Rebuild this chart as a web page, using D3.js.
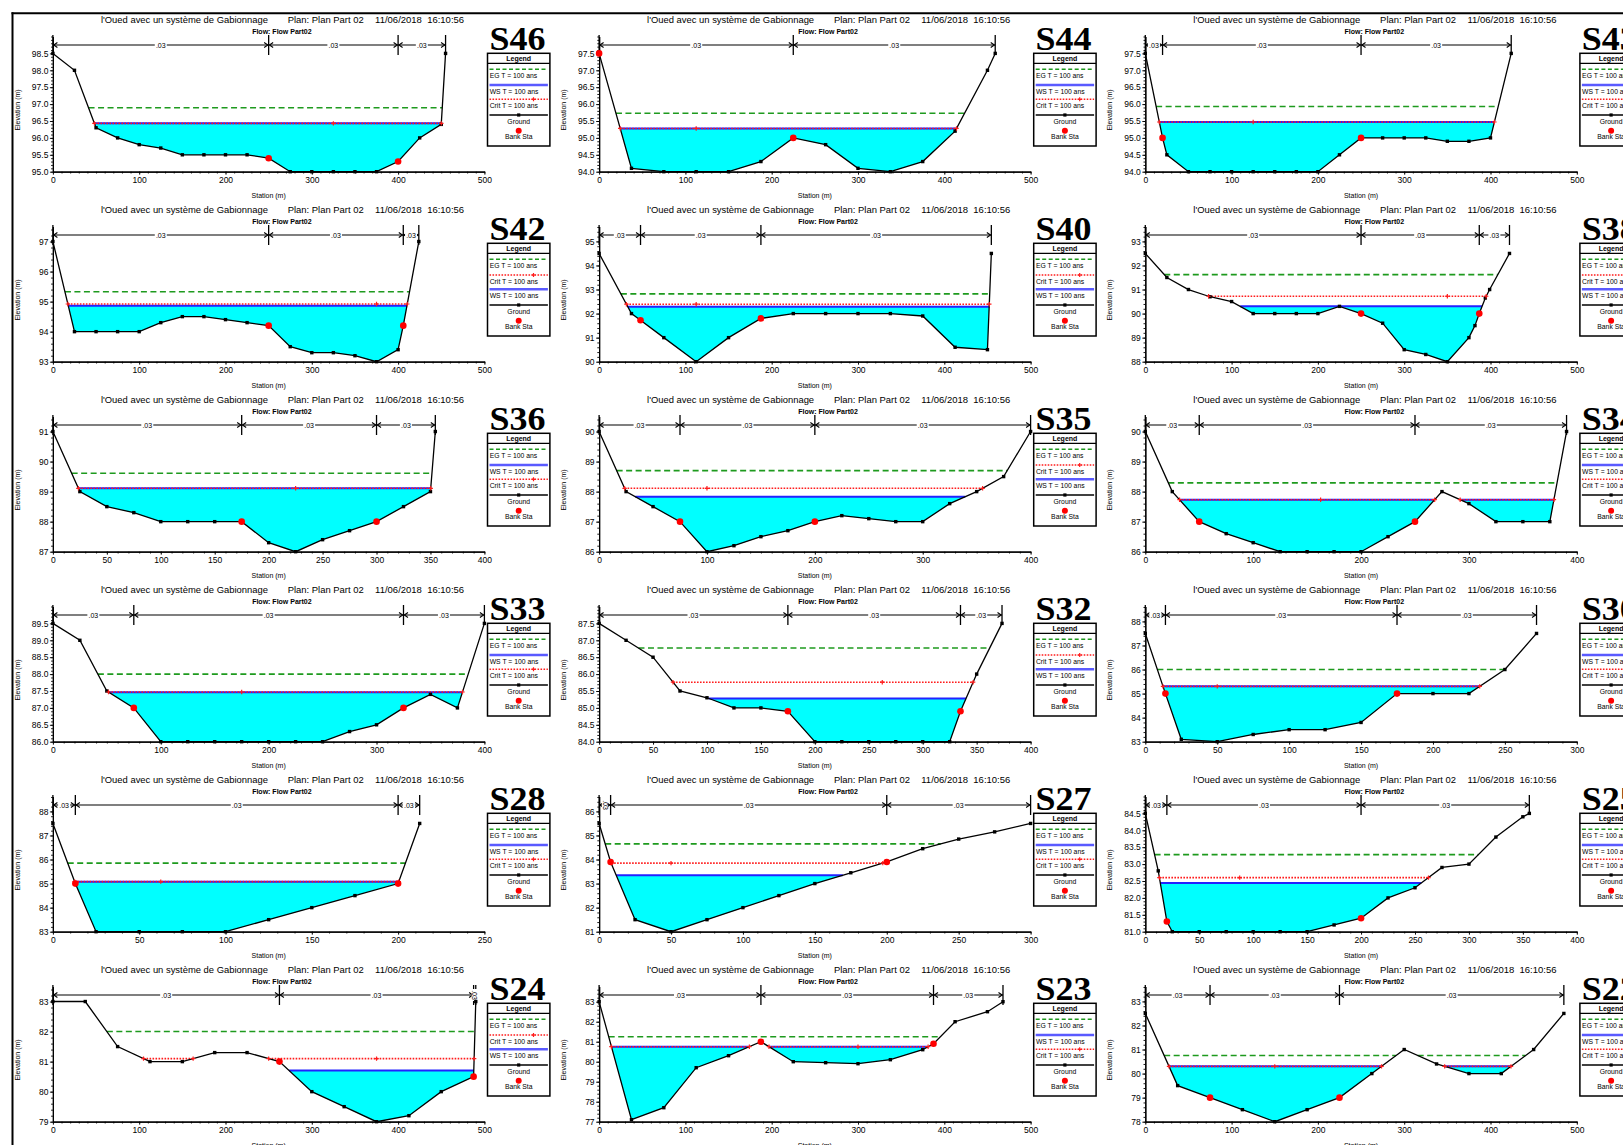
<!DOCTYPE html>
<html>
<head>
<meta charset="utf-8">
<title>Sections en travers – l'Oued avec un système de Gabionnage</title>
<script src="https://cdn.jsdelivr.net/npm/d3@7/dist/d3.min.js"></script>
<style>
  html, body { margin: 0; padding: 0; background: #fff; overflow: hidden; }
  svg { display: block; }
</style>
</head>
<body>
<svg id="sheet" width="1623" height="1145"></svg>
<script>
// ---------------- Cross-section data: [station (m), elevation (m)] ----------------
const sectionNames = ["S46","S44","S43","S42","S40","S38","S36","S35","S34",
                      "S33","S32","S30","S28","S27","S25","S24","S23","S22"];

const groundS46 = [[0,98.5],[25,98.0],[50,96.3],[75,96.0],[100,95.8],[125,95.7],[150,95.5],[175,95.5],[200,95.5],[225,95.5],[250,95.4],[275,95.0],[300,95.0],[325,95.0],[350,95.0],[375,95.0],[400,95.3],[425,96.0],[450,96.4],[455,98.5]];
const groundS44 = [[0,97.5],[37.5,94.1],[75,94.0],[112.5,94.0],[150,94.0],[187.5,94.3],[225,95.0],[262.5,94.8],[300,94.1],[337.5,94.0],[375,94.3],[412.5,95.2],[450,97.0],[459,97.5]];
const groundS43 = [[0,97.5],[20,95.0],[25,94.5],[50,94.0],[75,94.0],[100,94.0],[125,94.0],[150,94.0],[175,94.0],[200,94.0],[225,94.5],[250,95.0],[275,95.0],[300,95.0],[325,95.0],[350,94.9],[375,94.9],[400,95.0],[424,97.5]];
const groundS42 = [[0,97.0],[25,94.0],[50,94.0],[75,94.0],[100,94.0],[125,94.3],[150,94.5],[175,94.5],[200,94.4],[225,94.3],[250,94.2],[275,93.5],[300,93.3],[325,93.3],[350,93.2],[375,93.0],[400,93.4],[406,94.2],[424,97.0]];
const groundS40 = [[0,94.5],[37.5,92.0],[48,91.72],[75,91.0],[112.5,90.0],[150,91.0],[187.5,91.8],[225,92.0],[262.5,92.0],[300,92.0],[337.5,92.0],[375,91.9],[412.5,90.6],[450,90.5],[454.5,94.5]];
const groundS38 = [[0,92.5],[25,91.5],[50,91.0],[75,90.7],[100,90.5],[125,90.0],[150,90.0],[175,90.0],[200,90.0],[225,90.3],[250,90.0],[275,89.6],[300,88.5],[325,88.3],[350,88.0],[375,89.0],[382,89.5],[387,90.0],[394,90.65],[399,91.0],[422,92.5]];
const groundS36 = [[0,91.0],[25,89.0],[50,88.5],[75,88.3],[100,88.0],[125,88.0],[150,88.0],[175,88.0],[200,87.3],[225,87.0],[250,87.4],[275,87.7],[300,88.0],[325,88.5],[350,89.0],[354.5,91.0]];
const groundS35 = [[0,90.0],[25,88.0],[50,87.5],[75,87.0],[100,86.0],[125,86.2],[150,86.5],[175,86.7],[200,87.0],[225,87.2],[250,87.1],[275,87.0],[300,87.0],[325,87.6],[350,88.0],[375,88.5],[400,90.0]];
const groundS34 = [[0,90.0],[25,88.0],[50,87.0],[75,86.6],[100,86.3],[125,86.0],[150,86.0],[175,86.0],[200,86.0],[225,86.5],[250,87.0],[275,88.0],[300,87.6],[325,87.0],[350,87.0],[375,87.0],[390.5,90.0]];
const groundS33 = [[0,89.5],[25,89.0],[50,87.5],[75,87.0],[100,86.0],[125,86.0],[150,86.0],[175,86.0],[200,86.0],[225,86.0],[250,86.0],[275,86.3],[300,86.5],[325,87.0],[350,87.4],[375,87.0],[400,89.5]];
const groundS32 = [[0,87.5],[25,87.0],[50,86.5],[75,85.5],[100,85.3],[125,85.0],[150,85.0],[175,84.9],[200,84.0],[225,84.0],[250,84.0],[275,84.0],[300,84.0],[325,84.0],[335,84.9],[350,86.0],[373.5,87.5]];
const groundS30 = [[0,87.5],[14,85.0],[25,83.1],[50,83.0],[75,83.3],[100,83.5],[125,83.5],[150,83.8],[175,85.0],[200,85.0],[225,85.0],[250,86.0],[272,87.5]];
const groundS28 = [[0,87.5],[13,85.0],[25,83.0],[50,83.0],[75,83.0],[100,83.0],[125,83.5],[150,84.0],[175,84.5],[200,85.0],[212.5,87.5]];
const groundS27 = [[0,85.5],[8,83.9],[25,81.5],[50,81.0],[75,81.5],[100,82.0],[125,82.5],[150,83.0],[175,83.45],[200,83.9],[225,84.45],[250,84.85],[275,85.15],[300,85.5]];
const groundS25 = [[0,84.5],[12,82.8],[20,81.3],[25,81.0],[50,81.0],[75,81.0],[100,81.0],[125,81.0],[150,81.0],[175,81.2],[200,81.4],[225,82.0],[250,82.3],[275,82.9],[300,83.0],[325,83.8],[350,84.4],[356,84.5]];
const groundS24 = [[0,83.0],[37.5,83.0],[75,81.5],[112.5,81.0],[150,81.0],[187.5,81.3],[225,81.3],[262.5,81.0],[300,80.0],[337.5,79.5],[375,79.0],[412.5,79.2],[450,80.0],[487.5,80.5],[490,83.0]];
const groundS23 = [[0,83.0],[37.5,77.1],[75,77.7],[112.5,79.7],[150,80.3],[187.5,81.0],[225,80.0],[262.5,79.95],[300,79.9],[337.5,80.1],[375,80.6],[387.5,80.9],[412.5,82.0],[450,82.5],[468,83.0]];
const groundS22 = [[0,82.5],[37.5,79.5],[75,79.0],[112.5,78.5],[150,78.0],[187.5,78.5],[225,79.0],[262.5,80.0],[300,81.0],[337.5,80.4],[375,80.0],[412.5,80.0],[450,81.0],[485,82.5]];

const groundProfiles = [groundS46, groundS44, groundS43, groundS42, groundS40, groundS38,
                        groundS36, groundS35, groundS34, groundS33, groundS32, groundS30,
                        groundS28, groundS27, groundS25, groundS24, groundS23, groundS22];

// left / right bank stations
const bankStations = [[250,400],[0,225],[20,250],[250,406],[48,187.5],[250,387],
                      [175,300],[75,200],[50,250],[75,325],[175,335],[14,175],
                      [13,200],[8,200],[20,200],[262.5,487.5],[187.5,387.5],[75,225]];

// water surface, critical depth and energy grade elevations (T = 100 ans)
const wsElevations   = [96.43, 95.28, 95.47, 94.86, 92.28, 90.30, 89.11, 87.83, 87.73, 87.46, 85.28, 85.30, 85.08, 83.35, 82.44, 80.70, 80.75, 80.30];
const critElevations = [96.43, 95.28, 95.47, 94.92, 92.39, 90.72, 89.11, 88.11, 87.73, 87.47, 85.76, 85.30, 85.08, 83.85, 82.60, 81.10, 80.75, 80.30];
const egElevations   = [96.89, 95.73, 95.93, 95.33, 92.82, 91.62, 89.61, 88.70, 88.29, 88.00, 86.77, 86.00, 85.85, 84.65, 83.28, 82.00, 81.25, 80.75];

// Manning n-value change stations
const nValueBreaks = [[0,250,400,455],[0,225,459],[0,20,250,424],[0,250,406,424],[0,48,187.5,454.5],[0,250,387,422],
                      [0,175,300,354.5],[0,75,200,400],[0,50,250,390.5],[0,75,325,400],[0,175,335,373.5],[0,14,175,272],
                      [0,13,200,212.5],[0,8,200,300],[0,20,200,356],[0,262.5,487.5,490],[0,187.5,387.5,468],[0,75,225,485]];
const nValueLabel = ".03";

// axes
const stationMax      = [500,500,500, 500,500,500, 400,400,400, 400,400,300, 250,300,400, 500,500,500];
const stationTickStep = [100,100,100, 100,100,100, 50,100,100, 100,50,50, 50,50,50, 100,100,100];
const elevationMin    = [95,94,94, 93,90,88, 87,86,86, 86,84,83, 83,81,81, 79,77,78];
const elevationMax    = [99,98,98, 97.5,95.62,93.62, 91.5,90.5,90.5, 90,88,88.62, 88.62,86.62,85, 83.5,83.76,83.62];
const elevationTickStep = [0.5,0.5,0.5, 1,1,1, 1,1,1, 0.5,0.5,1, 1,1,0.5, 1,1,1];

// legend row order: "WC" = EG, WS, Crit ; "CW" = EG, Crit, WS
const legendOrders = ["WC","WC","WC","CW","CW","CW","WC","CW","WC","WC","CW","WC","WC","WC","WC","CW","WC","WC"];

const titleParts = ["l'Oued avec un système de Gabionnage", "Plan: Plan Part 02", "11/06/2018  16:10:56"];
const flowTitle = "Flow: Flow Part02";
const legendLabels = { eg: "EG T = 100 ans", ws: "WS T = 100 ans", crit: "Crit T = 100 ans", ground: "Ground", bank: "Bank Sta" };

// ---------------- Layout ----------------
const colX0 = [52.9, 599.1, 1145.3];
const rowTop = [20, 210, 400, 590, 780, 970];
const PLOT_W = 431.5, PLOT_TOP = 16.5, PLOT_BOTTOM = 151.7;
const N_LINE_Y = 25, N_BAR_TOP = 15, N_BAR_BOTTOM = 35;
const SANS = "'Liberation Sans', Arial, Helvetica, sans-serif";
const SERIF = "'Liberation Serif', 'Times New Roman', serif";
const COLORS = { eg: "#1e9a1e", ws: "#2222ff", crit: "#ff1c1c", fill: "#00ffff", ground: "#000000", bank: "#ff0000" };

const svg = d3.select("#sheet");

// sheet frame
svg.append("line").attr("x1", 11.5).attr("x2", 1623).attr("y1", 13.3).attr("y2", 13.3)
  .attr("stroke", "#000").attr("stroke-width", 2);
svg.append("line").attr("x1", 12.5).attr("x2", 12.5).attr("y1", 12.3).attr("y2", 1145)
  .attr("stroke", "#000").attr("stroke-width", 2);

// split the ground profile into wetted runs below a horizontal level
function wetRuns(pts, level) {
  const runs = [];
  let cur = null;
  for (let k = 0; k < pts.length; k++) {
    const [s, e] = pts[k];
    if (k > 0) {
      const [sp, ep] = pts[k - 1];
      if ((ep - level) * (e - level) < 0) {
        const sc = sp + (level - ep) / (e - ep) * (s - sp);
        if (cur) { cur.push([sc, level]); runs.push(cur); cur = null; }
        else { cur = [[sc, level]]; }
      }
    }
    if (e <= level) { if (!cur) cur = []; cur.push([s, e]); }
    else if (cur) { runs.push(cur); cur = null; }
  }
  if (cur) runs.push(cur);
  return runs.filter(r => r.length > 1 && r[r.length - 1][0] - r[0][0] > 1e-6);
}

// station of the lowest main-channel point (centre of the flat bottom)
function thalwegStation(pts, banks) {
  const inMain = pts.filter(p => p[0] >= banks[0] - 1e-6 && p[0] <= banks[1] + 1e-6);
  const minE = d3.min(inMain, p => p[1]);
  const firstIdx = inMain.findIndex(p => Math.abs(p[1] - minE) < 1e-6);
  let lastIdx = firstIdx;
  while (lastIdx + 1 < inMain.length && Math.abs(inMain[lastIdx + 1][1] - minE) < 1e-6) lastIdx++;
  return (inMain[firstIdx][0] + inMain[lastIdx][0]) / 2;
}

function plusMark(sel, cx, cy, size, color) {
  sel.append("path")
    .attr("d", `M${cx - size},${cy}H${cx + size}M${cx},${cy - size}V${cy + size}`)
    .attr("stroke", color).attr("stroke-width", 1.2).attr("fill", "none");
}

function drawSection(i) {
  const col = i % 3, row = Math.floor(i / 3);
  const g = svg.append("g").attr("transform", `translate(${colX0[col]},${rowTop[row]})`);
  const ground = groundProfiles[i];
  const x = d3.scaleLinear().domain([0, stationMax[i]]).range([0, PLOT_W]);
  const y = d3.scaleLinear().domain([elevationMin[i], elevationMax[i]]).range([PLOT_BOTTOM, PLOT_TOP]);

  // ---- titles ----
  const titleX = [48, 234.8, 322.2], titleW = [167, 76, 89];
  titleParts.forEach((t, k) => {
    g.append("text").attr("x", titleX[k]).attr("y", 3.4)
      .attr("font-family", SANS).attr("font-size", 9.4)
      .attr("textLength", titleW[k]).attr("lengthAdjust", "spacingAndGlyphs")
      .style("white-space", "pre").text(t);
  });
  g.append("text").attr("x", 229).attr("y", 14.2).attr("text-anchor", "middle")
    .attr("font-family", SANS).attr("font-size", 7).attr("font-weight", "bold").text(flowTitle);

  // ---- section name ----
  g.append("text").attr("x", 436.5).attr("y", 30)
    .attr("font-family", SERIF).attr("font-weight", "bold").attr("font-size", 34)
    .attr("textLength", 56).attr("lengthAdjust", "spacingAndGlyphs").text(sectionNames[i]);

  // ---- n-value bar ----
  const nb = nValueBreaks[i];
  const nG = g.append("g").attr("stroke", "#000").attr("fill", "none");
  nG.append("line").attr("x1", x(nb[0])).attr("x2", x(nb[nb.length - 1]))
    .attr("y1", N_LINE_Y).attr("y2", N_LINE_Y).attr("stroke-width", 1.2);
  nb.forEach(s => {
    nG.append("line").attr("x1", x(s)).attr("x2", x(s))
      .attr("y1", N_BAR_TOP).attr("y2", N_BAR_BOTTOM).attr("stroke-width", 1.3);
  });
  for (let k = 0; k < nb.length - 1; k++) {
    const a = x(nb[k]), b = x(nb[k + 1]), w = b - a, mid = (a + b) / 2;
    if (w > 9) {
      nG.append("path").attr("d", `M${a + 4.5},${N_LINE_Y - 2.5}L${a + 0.8},${N_LINE_Y}L${a + 4.5},${N_LINE_Y + 2.5}`)
        .attr("stroke-width", 1.1);
      nG.append("path").attr("d", `M${b - 4.5},${N_LINE_Y - 2.5}L${b - 0.8},${N_LINE_Y}L${b - 4.5},${N_LINE_Y + 2.5}`)
        .attr("stroke-width", 1.1);
    }
    if (w >= 14) {
      g.append("rect").attr("x", mid - 6).attr("y", N_LINE_Y - 4).attr("width", 12).attr("height", 8)
        .attr("fill", "#fff");
      g.append("text").attr("x", mid).attr("y", N_LINE_Y + 2.5).attr("text-anchor", "middle")
        .attr("font-family", SANS).attr("font-size", 7).text(nValueLabel);
    } else {
      g.append("rect").attr("x", mid - 3).attr("y", N_LINE_Y - 6).attr("width", 6).attr("height", 12)
        .attr("fill", "#fff");
      g.append("text").attr("transform", `translate(${mid - 2.3},${N_LINE_Y}) rotate(90)`)
        .attr("text-anchor", "middle").attr("font-family", SANS).attr("font-size", 7).text(nValueLabel);
    }
  }

  // ---- water (cyan) ----
  const ws = wsElevations[i];
  const wsRuns = wetRuns(ground, ws);
  const area = d3.area().x(d => x(d[0])).y0(y(ws)).y1(d => y(d[1]));
  wsRuns.forEach(r => g.append("path").attr("d", area(r)).attr("fill", COLORS.fill));

  // ---- energy grade ----
  wetRuns(ground, egElevations[i]).forEach(r => {
    g.append("line").attr("x1", x(r[0][0])).attr("x2", x(r[r.length - 1][0]))
      .attr("y1", y(egElevations[i])).attr("y2", y(egElevations[i]))
      .attr("stroke", COLORS.eg).attr("stroke-width", 1.6).attr("stroke-dasharray", "6,3.5");
  });

  // ---- water surface ----
  wsRuns.forEach(r => {
    g.append("line").attr("x1", x(r[0][0])).attr("x2", x(r[r.length - 1][0]))
      .attr("y1", y(ws)).attr("y2", y(ws))
      .attr("stroke", COLORS.ws).attr("stroke-width", 2);
  });

  // ---- critical depth ----
  const crit = critElevations[i];
  const critRuns = wetRuns(ground, crit);
  critRuns.forEach(r => {
    g.append("line").attr("x1", x(r[0][0])).attr("x2", x(r[r.length - 1][0]))
      .attr("y1", y(crit)).attr("y2", y(crit))
      .attr("stroke", COLORS.crit).attr("stroke-width", 1.6).attr("stroke-dasharray", "1.6,1.4");
  });

  // ---- axes ----
  const yTicks = [], yMinor = [];
  const ys = elevationTickStep[i];
  for (let v = elevationMin[i]; v < elevationMax[i] - 0.01; v = +(v + ys).toFixed(3)) yTicks.push(v);
  for (let v = elevationMin[i]; v <= elevationMax[i] + 1e-6; v = +(v + ys / 5).toFixed(3)) yMinor.push(v);
  const xTicks = d3.range(0, stationMax[i] + 1e-6, stationTickStep[i]);
  const xMinor = d3.range(0, stationMax[i] + 1e-6, 10);
  const fmt = ys < 1 ? d3.format(".1f") : d3.format("d");

  const yMinorAxis = g.append("g").call(d3.axisLeft(y).tickValues(yMinor).tickSize(1.8).tickFormat("").tickSizeOuter(0));
  const yAxis = g.append("g").call(d3.axisLeft(y).tickValues(yTicks).tickFormat(fmt).tickSize(3).tickPadding(1.5).tickSizeOuter(0));
  const xMinorAxis = g.append("g").attr("transform", `translate(0,${PLOT_BOTTOM})`)
    .call(d3.axisBottom(x).tickValues(xMinor).tickSize(1.8).tickFormat("").tickSizeOuter(0));
  const xAxis = g.append("g").attr("transform", `translate(0,${PLOT_BOTTOM})`)
    .call(d3.axisBottom(x).tickValues(xTicks).tickFormat(d3.format("d")).tickSize(3).tickPadding(2.4).tickSizeOuter(0));
  [yMinorAxis, yAxis, xMinorAxis, xAxis].forEach(a => {
    a.attr("font-family", SANS).attr("font-size", 8.5);
    a.selectAll("path.domain").attr("stroke", "#000").attr("stroke-width", 1.2);
    a.selectAll(".tick line").attr("stroke", "#000").attr("stroke-width", 0.9);
    a.selectAll(".tick text").attr("fill", "#000");
  });

  g.append("text").attr("x", PLOT_W / 2).attr("y", 177.5).attr("text-anchor", "middle")
    .attr("font-family", SANS).attr("font-size", 7).text("Station (m)");
  g.append("text").attr("transform", `translate(-33,90) rotate(-90)`).attr("text-anchor", "middle")
    .attr("font-family", SANS).attr("font-size", 7).text("Elevation (m)");

  // ---- ground ----
  const line = d3.line().x(d => x(d[0])).y(d => y(d[1]));
  g.append("path").attr("d", line(ground)).attr("fill", "none")
    .attr("stroke", COLORS.ground).attr("stroke-width", 1.3);
  g.selectAll("rect.gp").data(ground).join("rect").attr("class", "gp")
    .attr("x", d => x(d[0]) - 1.7).attr("y", d => y(d[1]) - 1.7)
    .attr("width", 3.4).attr("height", 3.4).attr("fill", COLORS.ground);

  // ---- critical depth markers (ends and thalweg) ----
  const tw = thalwegStation(ground, bankStations[i]);
  critRuns.forEach(r => {
    plusMark(g, x(r[0][0]), y(crit), 2.2, COLORS.crit);
    plusMark(g, x(r[r.length - 1][0]), y(crit), 2.2, COLORS.crit);
    if (tw >= r[0][0] && tw <= r[r.length - 1][0]) plusMark(g, x(tw), y(crit), 2.2, COLORS.crit);
  });

  // ---- bank stations ----
  const interp = s => {
    for (let k = 1; k < ground.length; k++) {
      const [s0, e0] = ground[k - 1], [s1, e1] = ground[k];
      if (s >= s0 && s <= s1) return s1 === s0 ? e1 : e0 + (e1 - e0) * (s - s0) / (s1 - s0);
    }
    return ground[ground.length - 1][1];
  };
  bankStations[i].forEach(s => {
    g.append("circle").attr("cx", x(s)).attr("cy", y(interp(s))).attr("r", 3.3).attr("fill", COLORS.bank);
  });

  // ---- legend ----
  const L = g.append("g");
  const bx = 434.6, bw = 62.4, by = 33.3, bh = 92.7, lx1 = bx + 2, lx2 = bx + bw - 2, lcx = bx + bw / 2;
  L.append("rect").attr("x", bx).attr("y", by).attr("width", bw).attr("height", bh)
    .attr("fill", "#fff").attr("stroke", "#000").attr("stroke-width", 1.5);
  L.append("line").attr("x1", bx).attr("x2", bx + bw).attr("y1", 43.3).attr("y2", 43.3)
    .attr("stroke", "#000").attr("stroke-width", 1.2);
  L.append("text").attr("x", lcx).attr("y", 40.7).attr("text-anchor", "middle")
    .attr("font-family", SANS).attr("font-size", 7).attr("font-weight", "bold").text("Legend");

  const order = legendOrders[i] === "WC" ? ["eg", "ws", "crit"] : ["eg", "crit", "ws"];
  const rowLineY = [49.3, 65, 79.3], rowTextY = [58.4, 74.1, 88.4];
  order.forEach((kind, k) => {
    const ly = rowLineY[k];
    const ln = L.append("line").attr("x1", lx1).attr("x2", lx2).attr("y1", ly).attr("y2", ly);
    if (kind === "eg") ln.attr("stroke", COLORS.eg).attr("stroke-width", 1.6).attr("stroke-dasharray", "4,2.5");
    if (kind === "ws") ln.attr("stroke", "#5a5aff").attr("stroke-width", 2.4);
    if (kind === "crit") {
      ln.attr("stroke", COLORS.crit).attr("stroke-width", 1.6).attr("stroke-dasharray", "1.6,1.4");
      plusMark(L, lx1 + 44, ly, 2, COLORS.crit);
    }
    L.append("text").attr("x", bx + 2.2).attr("y", rowTextY[k])
      .attr("font-family", SANS).attr("font-size", 6.8).text(legendLabels[kind]);
  });
  L.append("line").attr("x1", lx1).attr("x2", lx2).attr("y1", 95).attr("y2", 95)
    .attr("stroke", "#000").attr("stroke-width", 1.3);
  L.append("rect").attr("x", lcx - 1.6).attr("y", 93.4).attr("width", 3.2).attr("height", 3.2).attr("fill", "#000");
  L.append("text").attr("x", lcx).attr("y", 104.1).attr("text-anchor", "middle")
    .attr("font-family", SANS).attr("font-size", 6.8).text(legendLabels.ground);
  L.append("circle").attr("cx", lcx).attr("cy", 110.7).attr("r", 3).attr("fill", COLORS.bank);
  L.append("text").attr("x", lcx).attr("y", 119.1).attr("text-anchor", "middle")
    .attr("font-family", SANS).attr("font-size", 6.8).text(legendLabels.bank);
}

sectionNames.forEach((name, i) => drawSection(i));
</script>
</body>
</html>
